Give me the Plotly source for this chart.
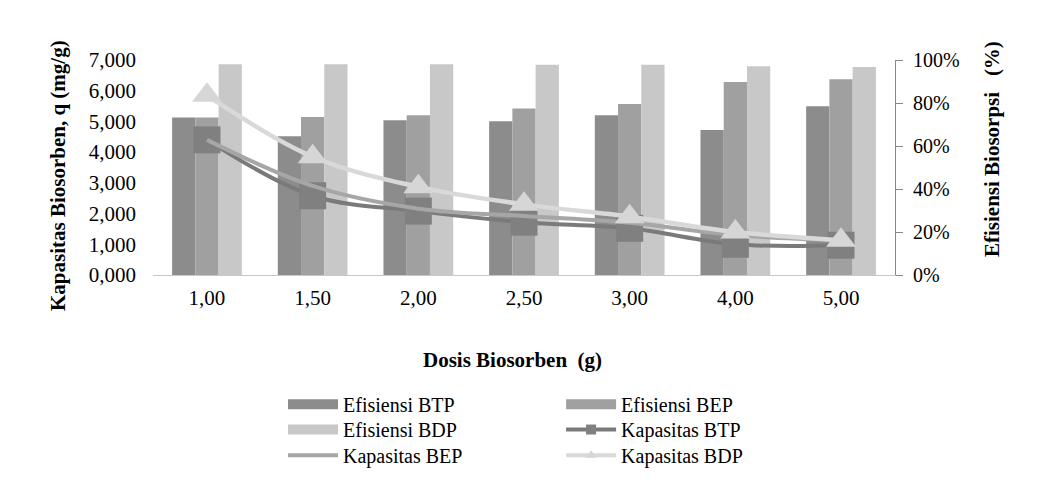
import plotly.graph_objects as go

dosis = ["1,00", "1,50", "2,00", "2,50", "3,00", "4,00", "5,00"]

# Efisiensi biosorpsi (%)
efisiensi_btp = [73.2, 64.5, 72.0, 71.5, 74.3, 67.4, 78.5]
efisiensi_bep = [73.2, 73.5, 74.3, 77.4, 79.5, 89.8, 91.0]
efisiensi_bdp = [98.0, 98.0, 98.0, 97.8, 97.8, 97.1, 96.7]

# Kapasitas biosorben q (mg/g)
kapasitas_btp = [4.40, 2.58, 2.08, 1.72, 1.52, 1.00, 0.97]
kapasitas_bep = [4.40, 2.90, 2.16, 1.92, 1.70, 1.30, 1.13]
kapasitas_bdp = [5.85, 3.85, 2.87, 2.30, 1.90, 1.40, 1.13]

FONT = "Liberation Serif"
C_BTP, C_BEP, C_BDP = "#8c8c8c", "#a0a0a0", "#c8c8c8"
L_BTP, L_BEP, L_BDP = "#7a7a7a", "#a6a6a6", "#d9d9d9"

fig = go.Figure()

fig.add_trace(go.Bar(x=dosis, y=efisiensi_btp, name="Efisiensi BTP",
                     marker=dict(color=C_BTP, line=dict(width=0)),
                     yaxis="y", showlegend=False))
fig.add_trace(go.Bar(x=dosis, y=efisiensi_bep, name="Efisiensi BEP",
                     marker=dict(color=C_BEP, line=dict(width=0)),
                     yaxis="y", showlegend=False))
fig.add_trace(go.Bar(x=dosis, y=efisiensi_bdp, name="Efisiensi BDP",
                     marker=dict(color=C_BDP, line=dict(width=0)),
                     yaxis="y", showlegend=False))

fig.add_trace(go.Scatter(x=dosis, y=kapasitas_btp, name="Kapasitas BTP",
                         mode="lines+markers", line=dict(color=L_BTP, width=4, shape="spline"),
                         marker=dict(symbol="square", size=27, color="#808080"),
                         yaxis="y2", showlegend=False))
fig.add_trace(go.Scatter(x=dosis, y=kapasitas_bep, name="Kapasitas BEP",
                         mode="lines", line=dict(color=L_BEP, width=4, shape="spline"),
                         yaxis="y2", showlegend=False))
fig.add_trace(go.Scatter(x=dosis, y=kapasitas_bdp, name="Kapasitas BDP",
                         mode="lines+markers", line=dict(color=L_BDP, width=4.5, shape="spline"),
                         marker=dict(symbol="triangle-up", size=26, color="#d6d6d6"),
                         yaxis="y2", showlegend=False))

# legend entries (one legend per entry, for exact placement)
legend_items = [
    ("Efisiensi BTP", dict(color=C_BTP, width=10), None, "legend"),
    ("Efisiensi BEP", dict(color=C_BEP, width=10), None, "legend2"),
    ("Efisiensi BDP", dict(color=C_BDP, width=10), None, "legend3"),
    ("Kapasitas BTP", dict(color=L_BTP, width=4), dict(symbol="square", size=10, color="#808080"), "legend4"),
    ("Kapasitas BEP", dict(color=L_BEP, width=4), None, "legend5"),
    ("Kapasitas BDP", dict(color=L_BDP, width=4), dict(symbol="triangle-up", size=10, color="#d6d6d6"), "legend6"),
]
for name, line, marker, lg in legend_items:
    fig.add_trace(go.Scatter(x=[None], y=[None], name=name,
                             mode="lines+markers" if marker else "lines",
                             line=line, marker=marker, yaxis="y2",
                             legend=lg, showlegend=True))

legend_common = dict(
    font=dict(family=FONT, size=20, color="#000000"),
    bgcolor="rgba(0,0,0,0)",
    orientation="v", yanchor="top", xanchor="left",
    itemwidth=50,
)
col_x = [0.1752, 0.550]
row_y = [-0.511, -0.628, -0.748]
positions = [(0, 0), (1, 0), (0, 1), (1, 1), (0, 2), (1, 2)]
legends = {}
for i, (c, r) in enumerate(positions):
    key = "legend" if i == 0 else f"legend{i + 1}"
    legends[key] = dict(x=col_x[c], y=row_y[r], **legend_common)

title_font = dict(family=FONT, size=21, color="#000000")

fig.update_layout(
    width=1040, height=492,
    margin=dict(l=153, r=145, t=60, b=217, autoexpand=False),
    paper_bgcolor="white", plot_bgcolor="white",
    separators=",.",
    barmode="group", bargap=0.34, bargroupgap=0,
    font=dict(family=FONT, size=20, color="#000000"),
    xaxis=dict(
        type="category", automargin=False,
        showline=True, linecolor="#c8c8c8", linewidth=1,
        ticks="", showgrid=False, ticklabelstandoff=4,
        tickfont=dict(family=FONT, size=21),
    ),
    yaxis=dict(
        side="right", range=[0, 100], dtick=20, ticksuffix="%", automargin=False,
        showgrid=False, zeroline=False,
        showline=True, linecolor="#888888", linewidth=1,
        ticks="outside", ticklen=7, tickcolor="#888888", ticklabelstandoff=6,
        tickfont=dict(family=FONT, size=20),
    ),
    yaxis2=dict(
        side="left", overlaying="y", range=[0, 7], dtick=1, tickformat=".3f", automargin=False,
        showgrid=False, zeroline=False, showline=False, ticks="",
        ticklabelstandoff=16,
        tickfont=dict(family=FONT, size=21),
    ),
    annotations=[
        dict(text="<b>Kapasitas Biosorben, q (mg/g)</b>", textangle=-90,
             xref="paper", yref="paper", x=-0.128, y=0.4605,
             xanchor="center", yanchor="middle", showarrow=False,
             font=title_font),
        dict(text="<b>Efisiensi Biosorpsi\u00a0\u00a0 (%)</b>", textangle=-90,
             xref="paper", yref="paper", x=1.1307, y=0.586,
             xanchor="center", yanchor="middle", showarrow=False,
             font=title_font),
        dict(text="<b>Dosis Biosorben\u00a0 (g)</b>",
             xref="paper", yref="paper", x=0.485, y=-0.395,
             xanchor="center", yanchor="middle", showarrow=False,
             font=title_font),
    ],
    showlegend=True,
    **legends,
)

fig.write_html("out.html")
